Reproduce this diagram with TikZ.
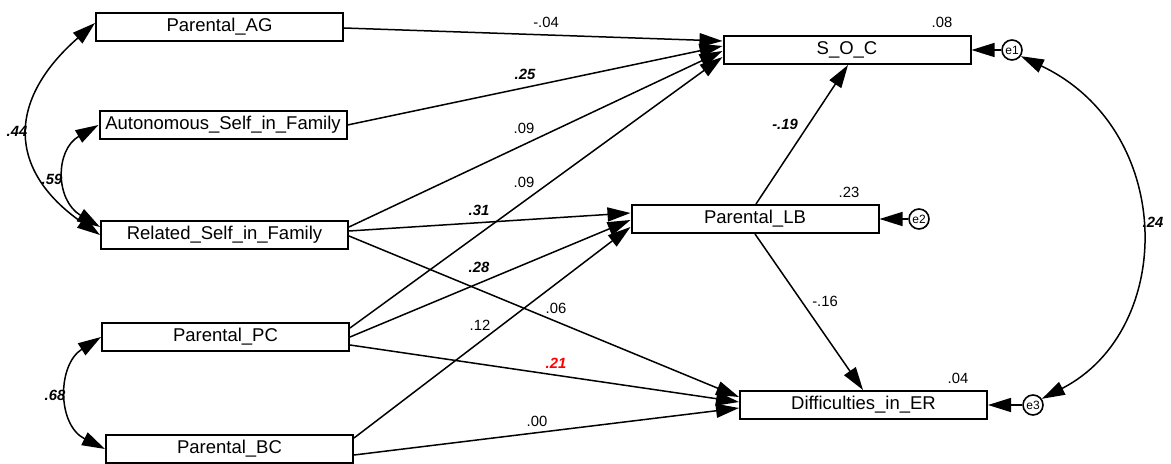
\documentclass[tikz,border=0pt]{standalone}
\usepackage{fontspec}
\setmainfont{Liberation Sans}
\usetikzlibrary{arrows.meta,calc}
\begin{document}
\begin{tikzpicture}[x=0.5pt,y=-0.5pt,
  box/.style={draw,line width=1pt,minimum width=123.5pt,minimum height=14pt,inner sep=0pt,font=\fontsize{9.25}{11}\selectfont},
  err/.style={draw,circle,line width=0.8pt,minimum size=10pt,inner sep=0pt,font=\fontsize{6}{7}\selectfont},
  conn/.style={line width=0.75pt,-{Triangle[length=11.5pt,width=7pt]}},
  cov/.style={line width=0.75pt,{Triangle[length=11.5pt,width=7pt]}-{Triangle[length=11.5pt,width=7pt]}},
  lab/.style={font=\fontsize{7.4}{8}\selectfont,inner sep=0pt},
  blab/.style={inner sep=0pt,font=\fontsize{7.4}{8}\selectfont\bfseries\itshape}]
\useasboundingbox (0,0) rectangle (1171,464);
% boxes
\node[box] (ag)  at (219.5,27)  {Parental\_AG};
\node[box] (aut) at (223,125)   {Autonomous\_Self\_in\_Family};
\node[box] (rel) at (224.5,235) {Related\_Self\_in\_Family};
\node[box] (pc)  at (225.5,337) {Parental\_PC};
\node[box] (bc)  at (229.5,449) {Parental\_BC};
\node[box] (soc) at (847,50)    {S\_O\_C};
\node[box] (lb)  at (755,219)   {Parental\_LB};
\node[box] (dif) at (863.5,405) {Difficulties\_in\_ER};
\node[err] (e1) at (1012,50)  {e1};
\node[err] (e2) at (919,219)  {e2};
\node[err] (e3) at (1033,405) {e3};
% paths to S_O_C
\draw[conn] ($(ag.east)+(0,1)$)   -- ($(soc.west)+(0,-9)$);
\draw[conn] ($(aut.east)+(0,0)$)  -- ($(soc.west)+(0,-4)$);
\draw[conn] ($(rel.east)+(0,-8)$) -- ($(soc.west)+(0,1)$);
\draw[conn] ($(pc.east)+(0,-9)$)  -- ($(soc.west)+(0,7)$);
% paths to Parental_LB
\draw[conn] ($(rel.east)+(0,-4)$) -- ($(lb.west)+(0,-6)$);
\draw[conn] ($(pc.east)+(0,0)$)   -- ($(lb.west)+(0,1)$);
\draw[conn] ($(bc.east)+(0,-11)$) -- ($(lb.west)+(0,8)$);
% paths to Difficulties
\draw[conn] ($(rel.east)+(0,1)$)  -- ($(dif.west)+(0,-8)$);
\draw[conn] ($(pc.east)+(0,8)$)   -- ($(dif.west)+(0,-3)$);
\draw[conn] ($(bc.east)+(0,6)$)   -- ($(dif.west)+(0,3)$);
% mediator
\draw[conn] ($(lb.north)+(1,0)$) -- ($(soc.south)+(1,0)$);
\draw[conn] (lb.south) -- ($(dif.north)+(-0.5,0)$);
% errors
\draw[conn] (e1.west) -- (soc.east);
\draw[conn] (e2.west) -- (lb.east);
\draw[conn] (e3.west) -- (dif.east);
% covariances
\draw[cov] ($(ag.west)+(0,-4)$) .. controls (7,100) and (7,170) .. (rel.west);
\draw[cov] (aut.west) .. controls (55,150) and (55,200) .. ($(rel.west)+(0,-8)$);
\draw[cov] (pc.west) .. controls (57,365) and (57,425) .. (bc.west);
\draw[cov] (e1.-35) .. controls (1176,130) and (1176,330) .. (e3.35);
% labels
\node[lab]  (l1)  at (546,22)  {-.04};
\node[blab] (l2)  at (525,74)  {.25};
\node[lab]  (l3)  at (524,128) {.09};
\node[lab]  (l4)  at (524,182) {.09};
\node[blab] (l5)  at (479,210) {.31};
\node[blab] (l6)  at (479,267) {.28};
\node[lab]  (l7)  at (556,308) {.06};
\node[lab]  (l8)  at (480,325) {.12};
\node[blab,text=red] (l9) at (556,363) {.21};
\node[lab]  (l10) at (537,421) {.00};
\node[blab] (l11) at (785,124) {-.19};
\node[lab]  (l12) at (942,22)  {.08};
\node[lab]  (l13) at (849,192) {.23};
\node[lab]  (l14) at (825,301) {-.16};
\node[lab]  (l15) at (958,378) {.04};
\node[blab] (l16) at (1153,222) {.24};
\node[blab] (l17) at (17,131)  {.44};
\node[blab] (l18) at (52,179)  {.59};
\node[blab] (l19) at (55,395)  {.68};
\end{tikzpicture}
\end{document}
